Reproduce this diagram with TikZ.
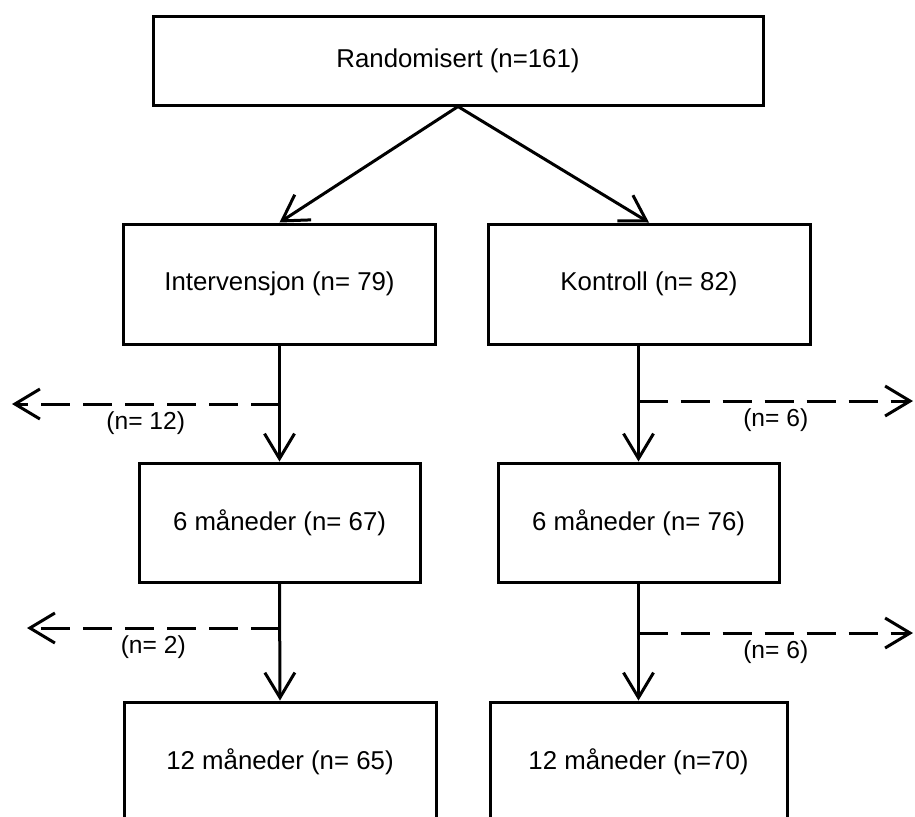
\documentclass[tikz,border=0pt]{standalone}
\usepackage{fontspec}
\setmainfont{Liberation Sans}
\usepackage{tikz}
\usetikzlibrary{arrows.meta}

\begin{document}
\begin{tikzpicture}[x=0.5pt,y=-0.5pt,line width=1.5pt,
>={Straight Barb[length=12.5pt,width=15pt]},
boks/.style={draw,rectangle,inner sep=0pt,font=\fontsize{12.9}{15}\selectfont},
frafall/.style={->,dash pattern=on 14.5pt off 6.5pt},
antall/.style={midway,below,inner sep=3pt,font=\fontsize{12.3}{14}\selectfont}]
\useasboundingbox(0,0)rectangle(915,816);
\clip(0,0)rectangle(915,816);
\node[boks,minimum width=305pt,minimum height=44.5pt](rand)at(458,60.5){Randomisert (n=161)};
\node[boks,minimum width=156pt,minimum height=60pt](interv)at(279.5,284){Intervensjon (n= 79)};
\node[boks,minimum width=161pt,minimum height=60pt](kontr)at(649,284){Kontroll (n= 82)};
\node[boks,minimum width=140.5pt,minimum height=59.5pt](int6)at(279.5,522.5){6 måneder (n= 67)};
\node[boks,minimum width=140.5pt,minimum height=59.5pt](kon6)at(638.5,522.5){6 måneder (n= 76)};
\node[boks,minimum width=156pt,minimum height=60pt](int12)at(280,762){12 måneder (n= 65)};
\node[boks,minimum width=148.5pt,minimum height=60pt](kon12)at(638.5,762){12 måneder (n=70)};
\coordinate(ut1)at(12,404);
\coordinate(ut2)at(913,401);
\coordinate(ut3)at(27,628);
\coordinate(ut4)at(913,633);
\draw[->](rand.south)--(interv.north);
\draw[->](rand.south)--(kontr.north);
\draw[->](interv.south)--(int6.north);
\draw[->](kon6.north|-kontr.south)--(kon6.north);
\draw[->](int6.south)--(int12.north);
\draw[->](kon6.south)--(kon12.north);
\draw[frafall](interv.south|-ut1)--(ut1)node[antall]{(n= 12)};
\draw[frafall](kon6.north|-ut2)--(ut2)node[antall]{(n= 6)};
\draw[frafall](int6.south|-ut3)--(ut3)node[antall]{(n= 2)};
\draw[frafall](kon6.south|-ut4)--(ut4)node[antall]{(n= 6)};
\end{tikzpicture}
\end{document}
